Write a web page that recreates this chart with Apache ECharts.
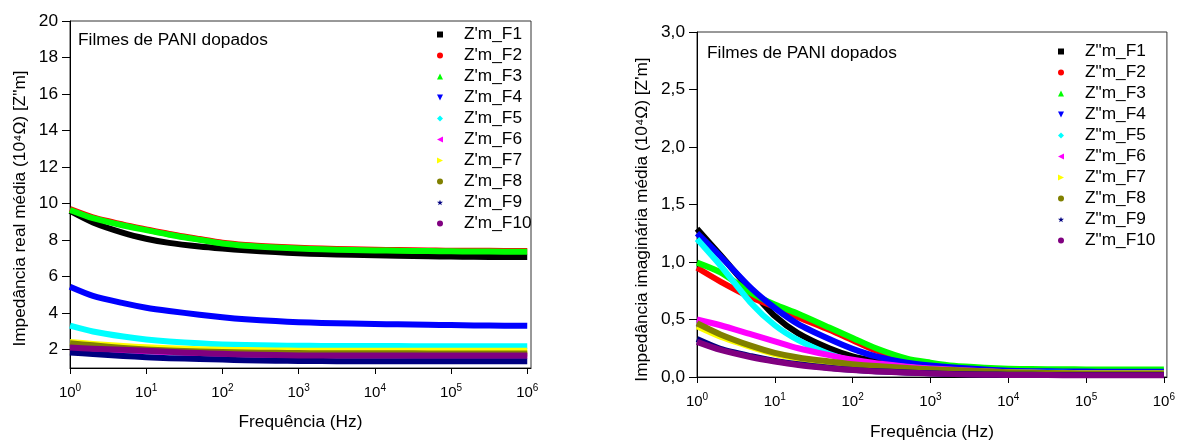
<!DOCTYPE html>
<html>
<head>
<meta charset="utf-8">
<script src="https://cdn.jsdelivr.net/npm/echarts@6/dist/echarts.min.js"></script>
<style>html,body{margin:0;padding:0;background:#fff}#c{width:1178px;height:446px}</style>
</head>
<body>
<div id="c"></div>
<script>
// ---- data ----
const freq = [1, 2, 5, 10, 20, 50, 100, 200, 500, 1000, 2000, 5000, 10000, 20000, 50000, 100000, 200000, 500000, 1000000];
const decadeTicks = [1, 10, 100, 1000, 10000, 100000, 1000000];
const realTicks = [2, 4, 6, 8, 10, 12, 14, 16, 18, 20];

const realNames = ["Z'm_F1", "Z'm_F2", "Z'm_F3", "Z'm_F4", "Z'm_F5", "Z'm_F6", "Z'm_F7", "Z'm_F8", "Z'm_F9", "Z'm_F10"];
const imagNames = ['Z"m_F1', 'Z"m_F2', 'Z"m_F3', 'Z"m_F4', 'Z"m_F5', 'Z"m_F6', 'Z"m_F7', 'Z"m_F8', 'Z"m_F9', 'Z"m_F10'];

const realF1  = [9.6, 8.97, 8.4, 8.08, 7.85, 7.65, 7.54, 7.45, 7.35, 7.28, 7.24, 7.2, 7.17, 7.15, 7.12, 7.1, 7.09, 7.08, 7.08];
const realF2  = [9.7, 9.25, 8.85, 8.59, 8.34, 8.06, 7.86, 7.74, 7.64, 7.58, 7.54, 7.5, 7.47, 7.46, 7.44, 7.42, 7.42, 7.41, 7.41];
const realF3  = [9.65, 9.2, 8.8, 8.55, 8.3, 8.02, 7.82, 7.7, 7.6, 7.54, 7.5, 7.46, 7.44, 7.42, 7.4, 7.39, 7.38, 7.37, 7.37];
const realF4  = [5.45, 4.95, 4.55, 4.3, 4.12, 3.92, 3.78, 3.67, 3.57, 3.51, 3.47, 3.43, 3.41, 3.39, 3.37, 3.35, 3.33, 3.32, 3.31];
const realF5  = [3.32, 3.0, 2.72, 2.56, 2.45, 2.35, 2.29, 2.26, 2.23, 2.22, 2.21, 2.2, 2.2, 2.2, 2.19, 2.19, 2.19, 2.19, 2.19];
const realF6  = [2.12, 2.05, 1.97, 1.92, 1.87, 1.81, 1.77, 1.74, 1.71, 1.7, 1.69, 1.68, 1.68, 1.68, 1.67, 1.67, 1.67, 1.67, 1.67];
const realF7  = [2.42, 2.32, 2.2, 2.13, 2.08, 2.03, 2.0, 1.98, 1.96, 1.95, 1.95, 1.95, 1.95, 1.95, 1.95, 1.95, 1.95, 1.95, 1.95];
const realF8  = [2.35, 2.24, 2.1, 2.02, 1.96, 1.91, 1.87, 1.85, 1.83, 1.82, 1.81, 1.81, 1.81, 1.81, 1.8, 1.8, 1.8, 1.8, 1.8];
const realF9  = [1.85, 1.76, 1.66, 1.59, 1.54, 1.49, 1.46, 1.43, 1.4, 1.39, 1.38, 1.37, 1.37, 1.37, 1.37, 1.37, 1.37, 1.37, 1.37];
const realF10 = [2.12, 2.06, 2.0, 1.95, 1.89, 1.82, 1.78, 1.74, 1.71, 1.69, 1.68, 1.68, 1.68, 1.68, 1.68, 1.68, 1.68, 1.68, 1.68];

const imagF1  = [1.29, 1.06, 0.75, 0.53, 0.38, 0.25, 0.18, 0.14, 0.1, 0.078, 0.064, 0.05, 0.04, 0.036, 0.032, 0.03, 0.03, 0.03, 0.03];
const imagF2  = [0.95, 0.83, 0.69, 0.61, 0.52, 0.41, 0.32, 0.23, 0.15, 0.11, 0.088, 0.07, 0.06, 0.056, 0.052, 0.05, 0.05, 0.05, 0.05];
const imagF3  = [0.995, 0.91, 0.73, 0.63, 0.55, 0.43, 0.34, 0.25, 0.16, 0.125, 0.097, 0.08, 0.072, 0.069, 0.067, 0.066, 0.065, 0.065, 0.065];
const imagF4  = [1.25, 1.05, 0.77, 0.6, 0.46, 0.33, 0.245, 0.18, 0.125, 0.1, 0.082, 0.065, 0.055, 0.051, 0.048, 0.047, 0.046, 0.045, 0.045];
const imagF5  = [1.2, 0.97, 0.64, 0.45, 0.32, 0.2, 0.14, 0.11, 0.085, 0.068, 0.056, 0.045, 0.04, 0.038, 0.036, 0.035, 0.035, 0.035, 0.035];
const imagF6  = [0.5, 0.45, 0.37, 0.31, 0.25, 0.19, 0.15, 0.12, 0.09, 0.075, 0.063, 0.05, 0.04, 0.036, 0.032, 0.03, 0.03, 0.03, 0.03];
const imagF7  = [0.44, 0.35, 0.26, 0.2, 0.16, 0.125, 0.1, 0.085, 0.07, 0.06, 0.052, 0.045, 0.04, 0.036, 0.032, 0.03, 0.03, 0.03, 0.03];
const imagF8  = [0.467, 0.37, 0.27, 0.21, 0.17, 0.135, 0.112, 0.095, 0.078, 0.068, 0.06, 0.05, 0.042, 0.037, 0.033, 0.03, 0.03, 0.03, 0.03];
const imagF9  = [0.33, 0.245, 0.18, 0.14, 0.11, 0.08, 0.062, 0.05, 0.04, 0.032, 0.027, 0.022, 0.02, 0.019, 0.018, 0.018, 0.018, 0.018, 0.018];
const imagF10 = [0.305, 0.235, 0.172, 0.135, 0.105, 0.077, 0.06, 0.048, 0.038, 0.03, 0.025, 0.02, 0.018, 0.017, 0.016, 0.016, 0.016, 0.016, 0.016];

const realSeries = [realF1, realF2, realF3, realF4, realF5, realF6, realF7, realF8, realF9, realF10];
const imagSeries = [imagF1, imagF2, imagF3, imagF4, imagF5, imagF6, imagF7, imagF8, imagF9, imagF10];

// ---- styling ----
const colors = ['#000000', '#FF0000', '#00FF00', '#0000FF', '#00FFFF', '#FF00FF', '#FFFF00', '#808000', '#000080', '#800080'];
const icons = [
  'rect', 'circle', 'triangle',
  'path://M0,0 L10,0 L5,10 Z',
  'diamond',
  'path://M10,0 L10,10 L0,5 Z',
  'path://M0,0 L0,10 L10,5 Z',
  'circle',
  'path://M5,0 L6.2,3.6 L10,3.6 L6.9,5.8 L8.1,9.5 L5,7.2 L1.9,9.5 L3.1,5.8 L0,3.6 L3.8,3.6 Z',
  'circle'
];
const FONT = "'Liberation Sans', Arial, Helvetica, sans-serif";
const FS = 17.3;

function pairs(ys) { return freq.map((f, i) => [f, ys[i]]); }

const xLabel = {
  customValues: decadeTicks,
  margin: 15,
  color: '#000',
  fontFamily: FONT,
  formatter: function (v) {
    const e = Math.round(Math.log10(v));
    return '{b|10}{s|' + e + '}';
  },
  rich: {
    b: { fontSize: 15, fontFamily: FONT, color: '#000' },
    s: { fontSize: 10, fontFamily: FONT, color: '#000', padding: [0, 0, 9, 0] }
  }
};

const chart = echarts.init(document.getElementById('c'), null, { renderer: 'canvas' });

function makeSeries(ys, i, name, axisIdx) {
  return {
    name: name, type: 'line', xAxisIndex: axisIdx, yAxisIndex: axisIdx,
    data: pairs(ys), smooth: 0.25, showSymbol: false, symbol: icons[i],
    lineStyle: { width: 6, color: colors[i], join: 'round', cap: 'butt' }, itemStyle: { color: colors[i] }
  };
}
const series = [];
realSeries.forEach((ys, i) => series.push(makeSeries(ys, i, realNames[i], 0)));
imagSeries.forEach((ys, i) => series.push(makeSeries(ys, i, imagNames[i], 1)));

const legendCommon = {
  orient: 'vertical', padding: 0, itemGap: 4, itemWidth: 6, itemHeight: 6,
  textStyle: { fontSize: FS, fontFamily: FONT, color: '#000', padding: [0, 0, 0, 16] },
  selectedMode: false
};

chart.setOption({
  animation: false,
  backgroundColor: '#fff',
  textStyle: { fontFamily: FONT },
  title: [
    { text: 'Filmes de PANI dopados', left: 78, top: 32, padding: 0,
      textStyle: { fontSize: FS, fontWeight: 'normal', color: '#000', fontFamily: FONT } },
    { text: 'Filmes de PANI dopados', left: 707, top: 45, padding: 0,
      textStyle: { fontSize: FS, fontWeight: 'normal', color: '#000', fontFamily: FONT } }
  ],
  legend: [
    Object.assign({}, legendCommon, {
      left: 437, top: 26,
      data: realNames.map((n, i) => ({ name: n, icon: icons[i] }))
    }),
    Object.assign({}, legendCommon, {
      left: 1058, top: 43,
      data: imagNames.map((n, i) => ({ name: n, icon: icons[i] }))
    })
  ],
  grid: [
    { left: 70, top: 21, width: 461, height: 347, show: true, borderColor: '#333', borderWidth: 1, backgroundColor: 'transparent' },
    { left: 697, top: 32, width: 470, height: 353, show: true, borderColor: '#333', borderWidth: 1, backgroundColor: 'transparent' }
  ],
  xAxis: [
    { type: 'log', gridIndex: 0, logBase: 10, min: 1, max: 1120000,
      name: 'Frequência (Hz)', nameLocation: 'middle', nameGap: 46,
      nameTextStyle: { fontSize: FS, color: '#000', fontFamily: FONT },
      axisLine: { lineStyle: { color: '#000', width: 1 } },
      axisTick: { customValues: decadeTicks, length: 6, lineStyle: { color: '#000' } },
      minorTick: { show: false }, splitLine: { show: false },
      axisLabel: xLabel },
    { type: 'log', gridIndex: 1, logBase: 10, min: 1, max: 1094000,
      name: 'Frequência (Hz)', nameLocation: 'middle', nameGap: 47,
      nameTextStyle: { fontSize: FS, color: '#000', fontFamily: FONT },
      axisLine: { lineStyle: { color: '#000', width: 1 } },
      axisTick: { customValues: decadeTicks, length: 6, lineStyle: { color: '#000' } },
      minorTick: { show: false }, splitLine: { show: false },
      axisLabel: xLabel }
  ],
  yAxis: [
    { type: 'value', gridIndex: 0, min: 1, max: 20,
      name: 'Impedância real média (10⁴Ω) [Z"m]', nameLocation: 'middle', nameGap: 41,
      nameTextStyle: { fontSize: FS, color: '#000', fontFamily: FONT, padding: [0, 28, 0, 0] },
      axisLine: { show: true, lineStyle: { color: '#000', width: 1 } },
      axisTick: { show: true, customValues: realTicks, length: 8, lineStyle: { color: '#000' } },
      splitLine: { show: false },
      axisLabel: { customValues: realTicks, margin: 12, fontSize: FS, color: '#000', fontFamily: FONT } },
    { type: 'value', gridIndex: 1, min: 0, max: 3, interval: 0.5,
      name: "Impedância imaginária média (10⁴Ω) [Z'm]", nameLocation: 'middle', nameGap: 46,
      nameTextStyle: { fontSize: FS, color: '#000', fontFamily: FONT, padding: [0, 30, 0, 0] },
      axisLine: { show: true, lineStyle: { color: '#000', width: 1 } },
      axisTick: { show: true, length: 8, lineStyle: { color: '#000' } },
      splitLine: { show: false },
      axisLabel: { margin: 12, fontSize: FS, color: '#000', fontFamily: FONT,
        formatter: v => v.toFixed(1).replace('.', ',') } }
  ],
  series: series
});
</script>
</body>
</html>
